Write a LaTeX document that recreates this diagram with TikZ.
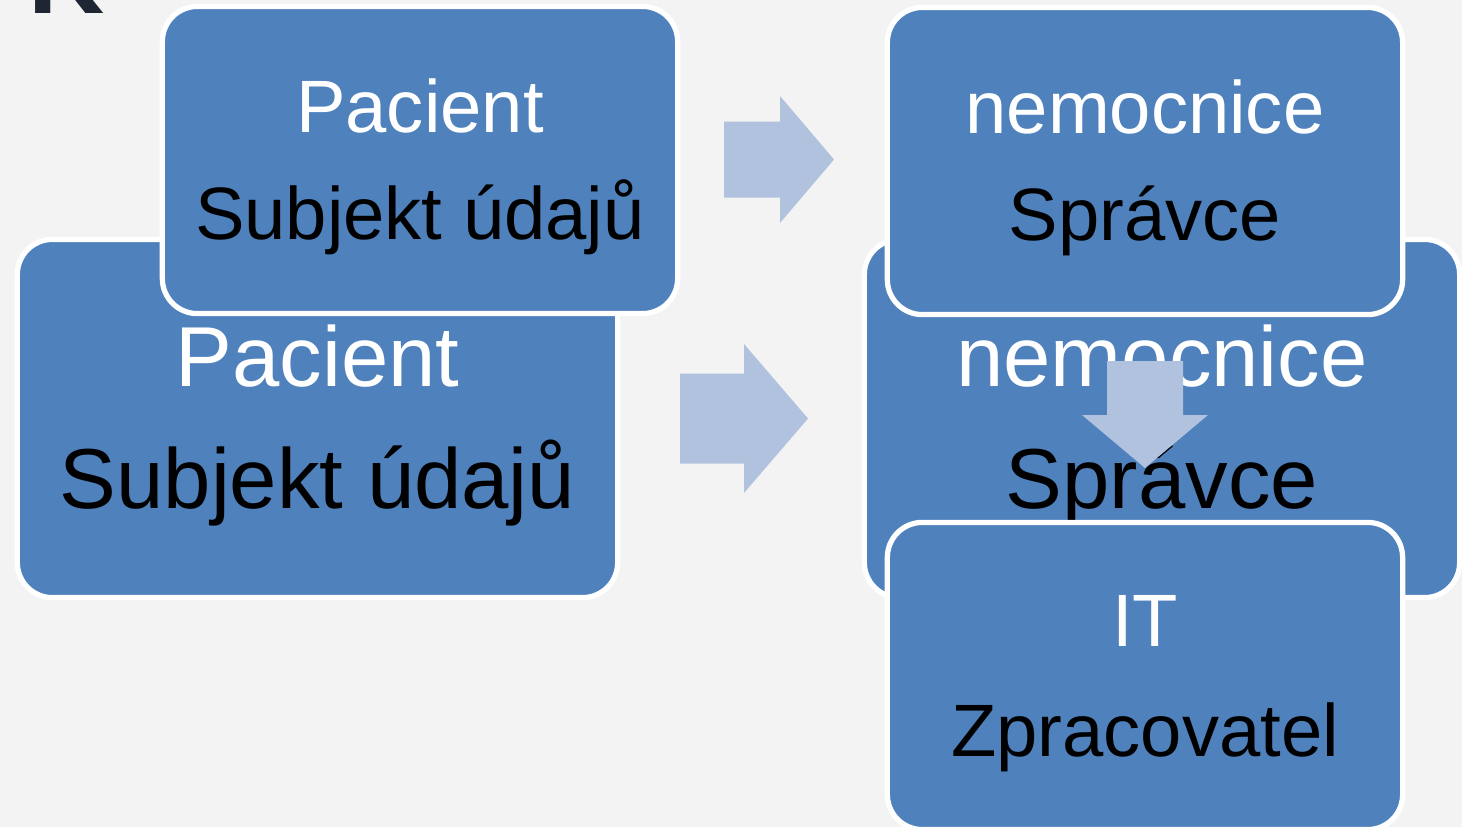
\documentclass[tikz,border=0pt]{standalone}
\usepackage{fontspec}
\setmainfont{Liberation Sans}
\usepackage{xcolor}
\definecolor{boxblue}{HTML}{4F81BD}
\definecolor{arrowblue}{HTML}{B1C2DE}
\definecolor{slidebg}{HTML}{F3F3F3}
\definecolor{titleink}{HTML}{1F2633}

\begin{document}
\begin{tikzpicture}[x=0.01cm, y=-0.01cm,
        box/.style={draw=white, line width=1.5pt, fill=boxblue, rounded corners=0.35cm, inner sep=0pt, align=center},
        bigbox/.style={box, minimum width=6cm, minimum height=3.58cm, text depth=0.1em, font=\fontsize{24.2}{34.7}\selectfont},
        smallbox/.style={box, minimum width=5.15cm, minimum height=3.07cm, text depth=0.07em, font=\fontsize{21.1}{30.5}\selectfont},
        pointer/.style={fill=arrowblue}]
        \useasboundingbox[fill=slidebg] (0,0) rectangle (1462,827);
        \node[anchor=base west, inner sep=0pt, text=titleink, font=\fontsize{30}{36}\bfseries\selectfont] (title) at (28,13) {K};
        % left side
        \node[bigbox] (pacientBig) at (317.5,418.5) {{\color{white}Pacient}\\Subjekt údajů};
        \node[smallbox] (pacientTop) at (420,160) {{\color{white}Pacient}\\Subjekt údajů};
        \foreach \x/\y/\s/\t/\w/\h in {724/159.5/780/834/38/63.5, 680/418.5/744/808/45/74.5}
            \fill[pointer] (\x,\y-\w) -- (\s,\y-\w) -- (\s,\y-\h) -- (\t,\y) -- (\s,\y+\h) -- (\s,\y+\w) -- (\x,\y+\w) -- cycle;
        % right side
        \node[bigbox, minimum width=5.95cm] (nemocniceBig) at (1162,418.5) {{\color{white}nemocnice}\\Správce};
        \node[smallbox] (nemocniceTop) at (1145,161) {{\color{white}nemocnice}\\Správce};
        \node[smallbox, text depth=0pt, font=\fontsize{21.1}{31.3}\selectfont] (it) at (1145,676) {{\color{white}IT}\\Zpracovatel};
        \fill[pointer] (1107,361) -- (1183,361) -- (1183,415) -- (1208,415) -- (1145,468) -- (1082,415) -- (1107,415) -- cycle;
    \end{tikzpicture}
\end{document}
